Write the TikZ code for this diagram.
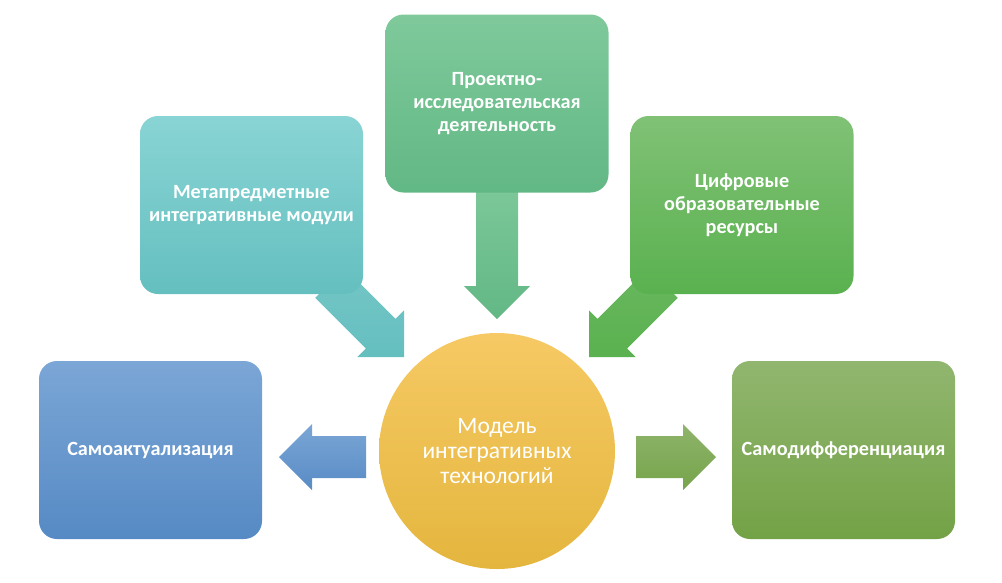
\documentclass[tikz,border=0pt]{standalone}
\usepackage{fontspec}
\setmainfont{Carlito}
\usetikzlibrary{calc}
\definecolor{metatop}{RGB}{137,212,212}
\definecolor{metabot}{RGB}{101,191,191}
\definecolor{proekttop}{RGB}{127,201,155}
\definecolor{proektbot}{RGB}{98,184,133}
\definecolor{cifrtop}{RGB}{128,193,118}
\definecolor{cifrbot}{RGB}{90,177,79}
\definecolor{akttop}{RGB}{123,166,214}
\definecolor{aktbot}{RGB}{86,138,196}
\definecolor{difftop}{RGB}{145,182,111}
\definecolor{diffbot}{RGB}{115,162,70}
\definecolor{modeltop}{RGB}{246,201,100}
\definecolor{modelmid}{RGB}{246,198,72}
\definecolor{modelbot}{RGB}{228,182,62}
\tikzstyle{block} = [
    rectangle,
    rounded corners = 18pt,
    minimum width = 223pt,
    minimum height = 178pt,
    align = center,
    text = white,
    font = \fontsize{20.2}{22.7}\selectfont\bfseries
]
\tikzstyle{hub} = [
    circle,
    minimum size = 236pt,
    align = center,
    text = white,
    font = \fontsize{23.5}{25}\selectfont
]
%% block arrow: style, start, tip
\newcommand{\blockarrow}[3]{%
    \coordinate (hb) at ($(#3)!33pt!(#2)$);
    \path[#1] ($(#2)!21pt!90:(#3)$) -- ($(hb)!21pt!90:(#3)$) -- ($(hb)!33pt!90:(#3)$)
        -- (#3) -- ($(hb)!33pt!-90:(#3)$) -- ($(hb)!21pt!-90:(#3)$) -- ($(#2)!21pt!-90:(#3)$) -- cycle;
}
\begin{document}
\begin{tikzpicture}[x=1pt, y=-1pt]
        \useasboundingbox (0,0) rectangle (1002,582);

        %% Arrow ends
        \coordinate (tl-s) at (330,283);
        \coordinate (tl-t) at (404,357);
        \coordinate (tc-s) at (497,180);
        \coordinate (tc-t) at (497,319);
        \coordinate (tr-s) at (663,283);
        \coordinate (tr-t) at (589,357);
        \coordinate (l-s) at (366,457);
        \coordinate (l-t) at (279,457);
        \coordinate (r-s) at (636,457);
        \coordinate (r-t) at (716,457);

        %% Arrows
        \blockarrow{top color=metabot!90!white, bottom color=metabot}{tl-s}{tl-t}
        \blockarrow{top color=proekttop!95!proektbot, bottom color=proektbot}{tc-s}{tc-t}
        \blockarrow{top color=cifrtop!40!cifrbot, bottom color=cifrbot}{tr-s}{tr-t}
        \blockarrow{top color=akttop, bottom color=aktbot!95!akttop}{l-s}{l-t}
        \blockarrow{top color=difftop!90!diffbot, bottom color=diffbot!90!difftop}{r-s}{r-t}

        %% Boxes
        \node (proekt) [block, top color=proekttop, bottom color=proektbot] at (497,103.5) {Проектно-\\исследовательская\\деятельность};
        \node (meta) [block, top color=metatop, bottom color=metabot] at (251.5,205) {Метапредметные\\интегративные модули};
        \node (cifr) [block, top color=cifrtop, bottom color=cifrbot] at (742,205) {Цифровые\\образовательные\\ресурсы};
        \node (samoakt) [block, top color=akttop, bottom color=aktbot] at (150.5,450) {Самоактуализация};
        \node (samodiff) [block, top color=difftop, bottom color=diffbot] at (843.5,450) {Самодифференциация};

        %% Centre
        \node (model) [hub, top color=modeltop, middle color=modelmid, bottom color=modelbot] at (497,451) {Модель\\интегративных\\технологий};

    \end{tikzpicture}
\end{document}
